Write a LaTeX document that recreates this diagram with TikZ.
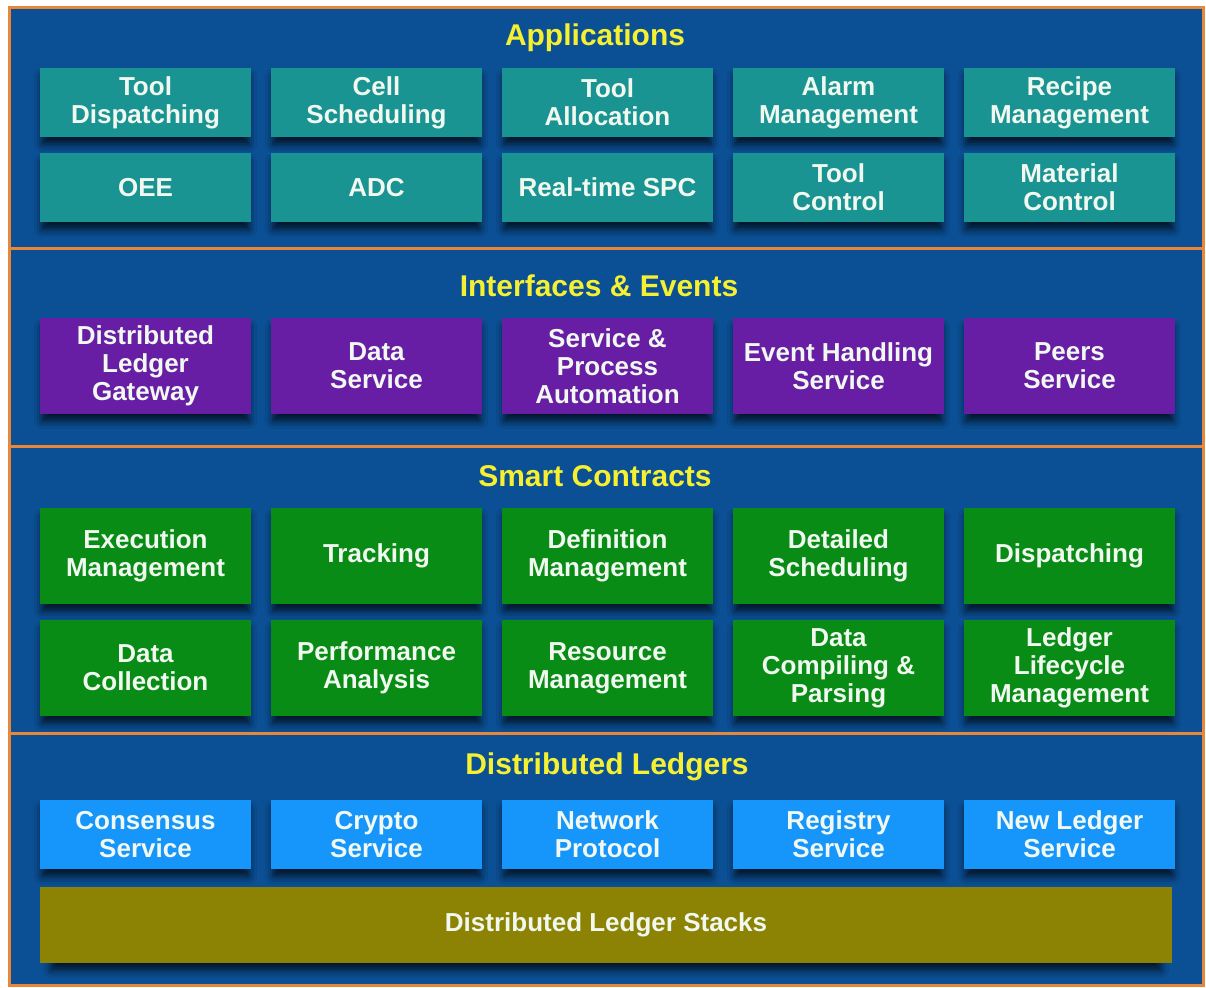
\documentclass[tikz,border=0pt]{standalone}
\usepackage{fontspec}
\setmainfont{Liberation Sans}
\usetikzlibrary{positioning,shadows.blur}

\definecolor{panelblue}{RGB}{11,79,148}
\definecolor{frameorange}{RGB}{232,135,58}
\definecolor{titleyellow}{RGB}{245,240,50}
\definecolor{appteal}{RGB}{26,148,146}
\definecolor{ifcpurple}{RGB}{104,30,164}
\definecolor{scgreen}{RGB}{8,140,22}
\definecolor{dlblue}{RGB}{22,150,250}
\definecolor{stackolive}{RGB}{140,130,4}
\definecolor{boxtext}{RGB}{240,248,240}

\tikzset{
  box/.style={rectangle, minimum width=211pt, inner sep=0pt, outer sep=0pt,
    align=center, text=boxtext, font=\bfseries\fontsize{26}{28}\selectfont,
    blur shadow={shadow xshift=0pt, shadow yshift=-8pt, shadow scale=0.98,
      shadow blur radius=8pt, shadow opacity=75}},
  app/.style={box, fill=appteal, minimum height=69pt},
  ifc/.style={box, fill=ifcpurple, minimum height=96pt},
  sc/.style={box, fill=scgreen, minimum height=96pt},
  dl/.style={box, fill=dlblue, minimum height=69pt},
  stack/.style={box, fill=stackolive, minimum width=1132pt, minimum height=76pt},
  title/.style={text=titleyellow, font=\bfseries\fontsize{30}{32}\selectfont},
  divider/.style={draw=frameorange, line width=3pt},
}

\begin{document}
\begin{tikzpicture}[x=1pt, y=-1pt, node distance=16pt and 20pt]

  \useasboundingbox[fill=white] (0,0) rectangle (1206,987);

  % Panels
  \fill[panelblue] (9,8) rectangle (1203,985);
  \draw[divider] (9,8) rectangle (1203,985);
  \draw[divider] (9,248) -- (1203,248);
  \draw[divider] (9,446) -- (1203,446);
  \draw[divider] (9,733) -- (1203,733);

  % Applications
  \node[title]           (tapp) at (595,38) {Applications};
  \node[app]             (app1) at (145.5,102.5) {Tool\\Dispatching};
  \node[app, right=of app1]  (app2) {Cell\\Scheduling};
  \node[app, right=of app2]  (app3) {Tool\\Allocation};
  \node[app, right=of app3]  (app4) {Alarm\\Management};
  \node[app, right=of app4]  (app5) {Recipe\\Management};
  \node[app, below=of app1]  (app6) {OEE};
  \node[app, right=of app6]  (app7) {ADC};
  \node[app, right=of app7]  (app8) {Real-time SPC};
  \node[app, right=of app8]  (app9) {Tool\\Control};
  \node[app, right=of app9]  (app10) {Material\\Control};

  % Interfaces & Events
  \node[title]           (tifc) at (599,286) {Interfaces \& Events};
  \node[ifc]             (ifc1) at (145.5,366) {Distributed\\Ledger\\Gateway};
  \node[ifc, right=of ifc1]  (ifc2) {Data\\Service};
  \node[ifc, right=of ifc2]  (ifc3) {Service \&\\Process\\Automation};
  \node[ifc, right=of ifc3]  (ifc4) {Event Handling\\Service};
  \node[ifc, right=of ifc4]  (ifc5) {Peers\\Service};

  % Smart Contracts
  \node[title]           (tsc) at (595,476) {Smart Contracts};
  \node[sc]              (sc1) at (145.5,556) {Execution\\Management};
  \node[sc, right=of sc1]    (sc2) {Tracking};
  \node[sc, right=of sc2]    (sc3) {Definition\\Management};
  \node[sc, right=of sc3]    (sc4) {Detailed\\Scheduling};
  \node[sc, right=of sc4]    (sc5) {Dispatching};
  \node[sc, below=of sc1]    (sc6) {Data\\Collection};
  \node[sc, right=of sc6]    (sc7) {Performance\\Analysis};
  \node[sc, right=of sc7]    (sc8) {Resource\\Management};
  \node[sc, right=of sc8]    (sc9) {Data\\Compiling \&\\Parsing};
  \node[sc, right=of sc9]    (sc10) {Ledger\\Lifecycle\\Management};

  % Distributed Ledgers
  \node[title]           (tdl) at (607,767) {Distributed Ledgers};
  \node[dl]              (dl1) at (145.5,834.5) {Consensus\\Service};
  \node[dl, right=of dl1]    (dl2) {Crypto\\Service};
  \node[dl, right=of dl2]    (dl3) {Network\\Protocol};
  \node[dl, right=of dl3]    (dl4) {Registry\\Service};
  \node[dl, right=of dl4]    (dl5) {New Ledger\\Service};
  \node[stack]           (stacks) at (606,925) {Distributed Ledger Stacks};

\end{tikzpicture}
\end{document}
